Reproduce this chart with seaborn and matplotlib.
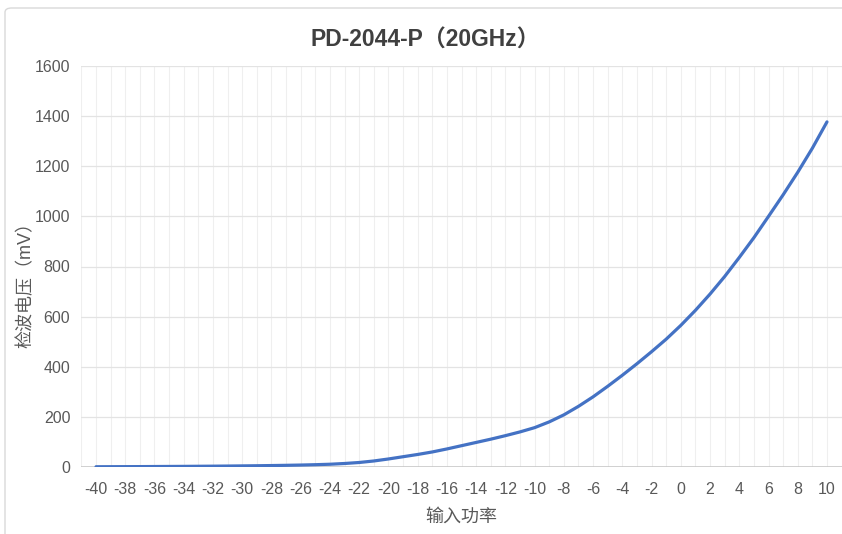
"""PD-2044-P detector curve: output voltage vs input power."""

import matplotlib

matplotlib.use("Agg")
import matplotlib.pyplot as plt
import numpy as np
import pandas as pd
import seaborn as sns
from matplotlib.patches import FancyBboxPatch

# input power, dBm (one point per dB)
power_dbm = list(range(-40, 11))
# detected voltage, mV
voltage_mv = [
    1.0, 1.2, 1.4, 1.6, 1.9, 2.2, 2.5, 2.9, 3.3, 3.8,
    4.4, 5.0, 5.8, 6.7, 7.8, 9.2, 11, 14, 18, 24,
    32, 41, 50, 60, 72, 85, 98, 111, 125, 140,
    157, 180, 208, 242, 280, 322, 366, 412, 460, 510,
    565, 625, 690, 760, 836, 915, 1000, 1086, 1176, 1272,
    1377,
]
tick_values = list(range(-40, 11, 2))
y_ticks = [0, 200, 400, 600, 800, 1000, 1200, 1400, 1600]

TITLE = "PD-2044-P（20GHz）"
X_LABEL = "输入功率"
Y_LABEL = "检波电压（mV）"

LINE_COLOR = "#4472C4"
TEXT_COLOR = "#595959"
FONTS = ["Liberation Sans", "Noto Sans CJK SC", "DejaVu Sans"]

sns.set_theme(style="white")
plt.rcParams["font.family"] = FONTS

df = pd.DataFrame({"power": power_dbm, "voltage": voltage_mv})

fig = plt.figure(figsize=(8.42, 5.34), dpi=100)
fig.patch.set_facecolor("white")

# light frame around the chart
fig.patches.append(
    FancyBboxPatch(
        (5 / 842, -0.05), 1.1, (534 - 8) / 534 + 0.05,
        boxstyle="round,pad=0,rounding_size=0.008",
        transform=fig.transFigure, facecolor="none",
        edgecolor="#d9d9d9", linewidth=1.0, zorder=0,
    )
)

ax = fig.add_axes([81.4 / 842, (534 - 467) / 534, 760.2 / 842, 401 / 534])

sns.lineplot(data=df, x="power", y="voltage", color=LINE_COLOR, linewidth=2.3, ax=ax, zorder=3)

ax.set_xlim(-41, 11)
ax.set_ylim(0, 1600)

# gridlines: vertical at every dB, horizontal every 200 mV
for v in np.arange(-41, 12, 1):
    ax.axvline(v, color="#efefef", linewidth=0.8, zorder=1)
for v in y_ticks[1:]:
    ax.axhline(v, color="#e3e3e3", linewidth=0.9, zorder=1)
ax.axhline(0, color="#c8c8c8", linewidth=1.2, zorder=2)

ax.set_xticks(tick_values)
ax.set_xticklabels([str(t) for t in tick_values])
ax.set_yticks(y_ticks)
ax.set_yticklabels([str(t) for t in y_ticks])
ax.tick_params(axis="both", length=0, labelsize=11.5, colors=TEXT_COLOR)
ax.tick_params(axis="x", pad=11)
ax.tick_params(axis="y", pad=8)

for s in ax.spines.values():
    s.set_visible(False)

ax.set_xlabel(X_LABEL, fontsize=13, color=TEXT_COLOR)
ax.xaxis.set_label_coords(0.499, -0.103)
ax.set_ylabel(Y_LABEL, fontsize=13, color=TEXT_COLOR)
ax.yaxis.set_label_coords(-0.062, 0.465)

fig.text(425 / 842, 1 - 40 / 534, TITLE, ha="center", va="center",
         fontsize=16.5, fontweight="bold", color="#404040")

fig.savefig("out.png", dpi=100, facecolor="white")
